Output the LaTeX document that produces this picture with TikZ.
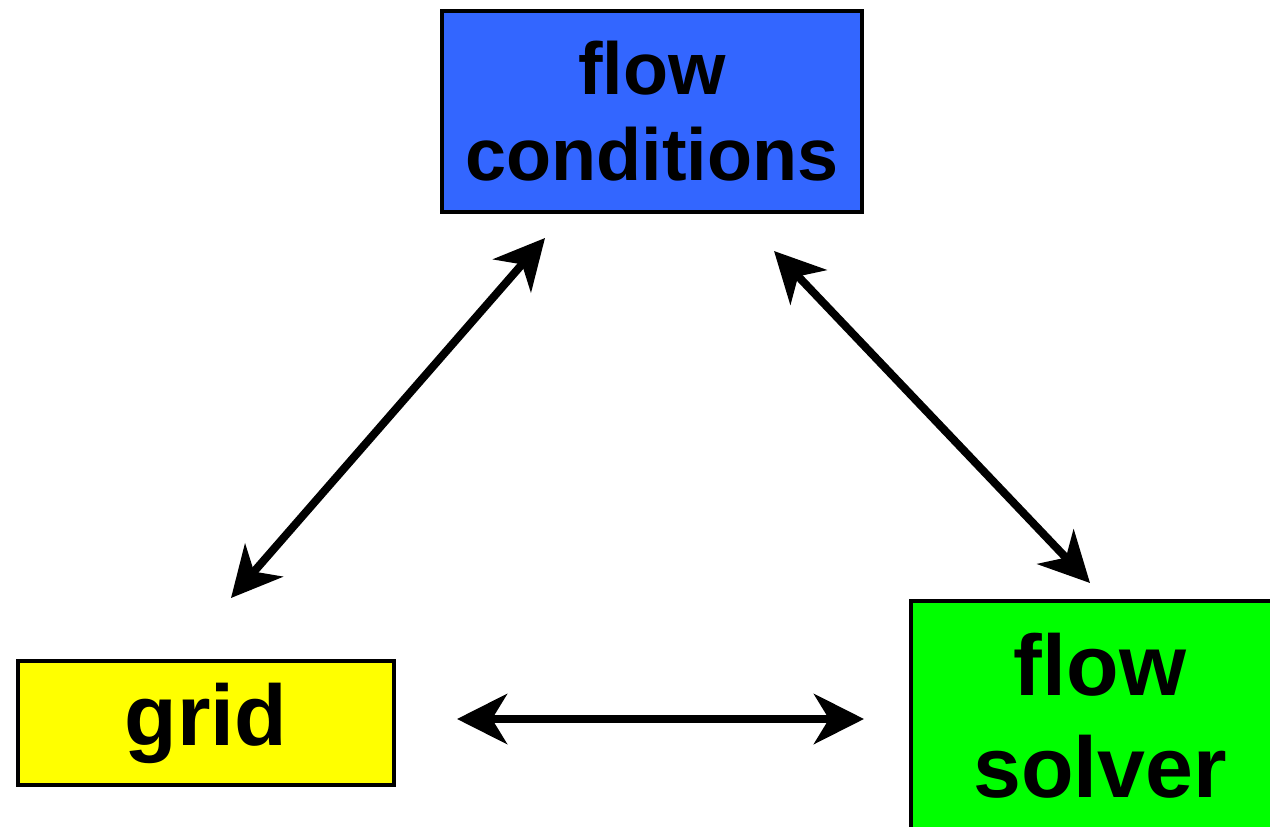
\documentclass[tikz,border=0pt]{standalone}
\usepackage{fontspec}
\setmainfont{Liberation Sans}
\usetikzlibrary{arrows.meta}
\definecolor{condblue}{RGB}{51,102,255}
\definecolor{gridyellow}{RGB}{255,255,0}
\definecolor{solvergreen}{RGB}{0,255,0}

\begin{document}
\begin{tikzpicture}[x=0.02cm,y=-0.02cm]
\tikzstyle{block}=[rectangle, draw, line width=0.09cm, align=center, inner sep=0pt,
    font=\fontsize{42}{49}\selectfont\bfseries]
\tikzstyle{bigtext}=[font=\fontsize{49}{58}\selectfont\bfseries]
\tikzstyle{link}=[line width=0.16cm,
    {Stealth[length=1cm,width=1cm,inset=0.3cm]}-{Stealth[length=1cm,width=1cm,inset=0.3cm]}]
\useasboundingbox (0,0) rectangle (1270,827);

    \node[block, fill=condblue, minimum width = 8.4cm,
    minimum height = 4.02cm] (cond) at (652,111.5) {flow\\conditions};
    \node[block, bigtext, fill=gridyellow, minimum width = 7.52cm,
    minimum height = 2.48cm] (grid) at (206,723) {grid};
    \node[block, bigtext, fill=solvergreen, minimum width = 7.56cm,
    minimum height = 4.58cm] (solver) at (1100,715.5) {flow\\solver};

\coordinate (g1) at (231,598);
\coordinate (c1) at (545,238);
\coordinate (c2) at (774,251);
\coordinate (s1) at (1090,583);
\coordinate (g2) at (457,719);
\coordinate (s2) at (864,719);

\draw[link] (g1) -- (c1);
\draw[link] (c2) -- (s1);
\draw[link] (g2) -- (s2);

\end{tikzpicture}
\end{document}
